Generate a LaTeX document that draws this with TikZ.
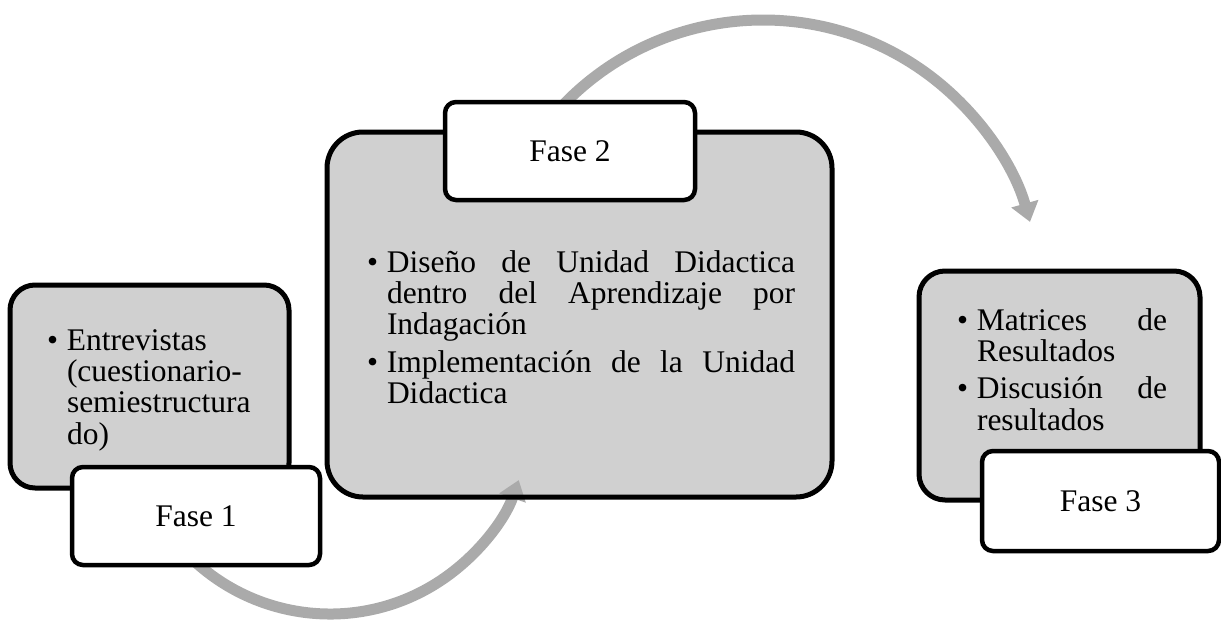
\documentclass[tikz,border=0pt]{standalone}
\usepackage{fontspec}
\setmainfont{Liberation Serif}
\usetikzlibrary{arrows.meta,calc}
\definecolor{boxgray}{RGB}{208,208,208}
\definecolor{arcgray}{RGB}{170,170,170}
\newcommand\bodyfont{\fontsize{31.5}{31.4}\selectfont}
\newcommand\bulitem[1]{\hangindent=20pt\hangafter=1\noindent\makebox[20pt][l]{•}#1\par}
\newcommand\boxtext[2]{\parbox[t]{#1}{\bodyfont\tolerance=10000\hyphenpenalty=10000\parskip=6pt #2}}
\tikzset{
  bigbox/.style={fill=boxgray, outer sep=0pt, inner sep=0pt, anchor=north west},
  border/.style={draw=black, line width=5pt},
  fasebox/.style={draw=black, fill=white, line width=4.5pt, rounded corners=11pt,
    anchor=north west, inner sep=0pt, outer sep=0pt},
  fasetext/.style={font=\bodyfont, inner sep=0pt},
  flowarc/.style={draw=arcgray, line width=11pt, -{Triangle[width=27pt,length=19pt]}},
  txt/.style={anchor=base west, inner sep=0pt, outer sep=0pt, align=left}
}
\begin{document}
\begin{tikzpicture}[x=1pt,y=-1pt]
\useasboundingbox (0,0) rectangle (1221,622);
% gray boxes (fill only)
\node[bigbox, rounded corners=25pt, minimum width=279pt, minimum height=203pt] (b1) at (10,285) {};
\node[bigbox, rounded corners=36pt, minimum width=505pt, minimum height=365pt] (b2) at (327,132) {};
\node[bigbox, rounded corners=26pt, minimum width=281pt, minimum height=229pt] (b3) at (919,271) {};
% circular arrows
\coordinate (a1c) at (330,414);
\coordinate (a1s) at ($(a1c)+(145:200)$);
\draw[flowarc] (a1s) arc[start angle=145, end angle=19.3, radius=200];
\coordinate (a2c) at (763,297.5);
\coordinate (a2s) at ($(a2c)+(-140:277.5)$);
\draw[flowarc] (a2s) arc[start angle=-140, end angle=-15.8, radius=277.5];
% borders of gray boxes
\draw[border, rounded corners=25pt] (b1.north west) rectangle (b1.south east);
\draw[border, rounded corners=36pt] (b2.north west) rectangle (b2.south east);
\draw[border, rounded corners=26pt] (b3.north west) rectangle (b3.south east);
% phase labels
\node[fasebox, minimum width=248pt, minimum height=98pt] (f1) at (72,467) {};
\node[fasebox, minimum width=250pt, minimum height=98pt] (f2) at (445,102) {};
\node[fasebox, minimum width=237pt, minimum height=100pt] (f3) at (982,451) {};
\node[fasetext] (t1) at (f1.center) {Fase 1};
\node[fasetext] (t2) at (f2.center) {Fase 2};
\node[fasetext] (t3) at (f3.center) {Fase 3};
% box texts
\node[txt] (x1) at (47,350) {\boxtext{240pt}{\bulitem{Entrevistas\\(cuestionario-\\semiestructura\\do)}}};
\node[txt] (x2) at (367,272) {\boxtext{428pt}{\bulitem{Diseño de Unidad Didactica\linebreak dentro del Aprendizaje por\linebreak Indagación}\bulitem{Implementación de la Unidad\linebreak Didactica}}};
\node[txt] (x3) at (957,330) {\boxtext{210pt}{\bulitem{Matrices de\linebreak Resultados}\bulitem{Discusión de\linebreak resultados}}};
\end{tikzpicture}
\end{document}
